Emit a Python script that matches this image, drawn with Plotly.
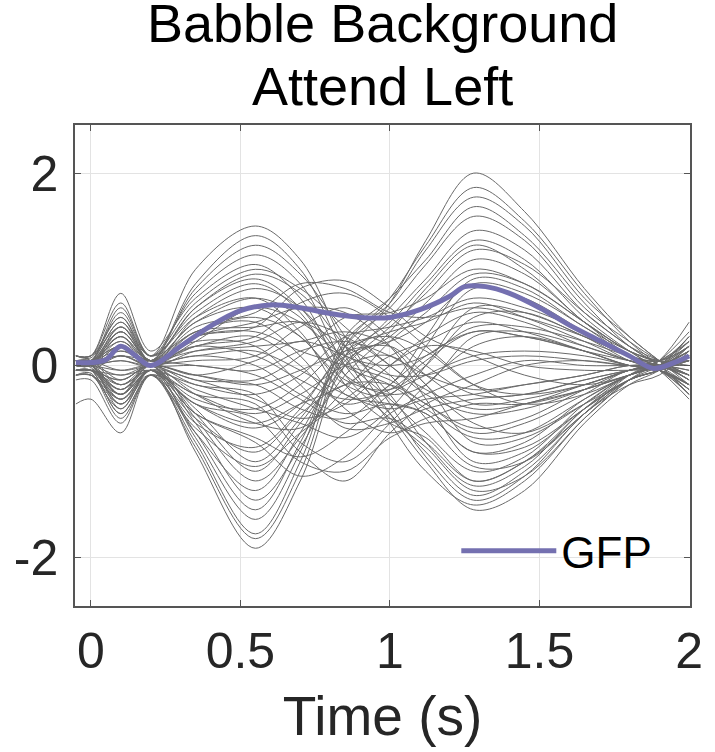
import plotly.graph_objects as go

times = [-0.05, 0, 0.1, 0.2, 0.35, 0.55, 0.7, 0.85, 1.0, 1.12, 1.28, 1.45, 1.65, 1.8, 1.9, 2.0]

# channels: early negative / late positive
ch01 = [0.05, 0.02, -0.45, -0.05, -0.9, -1.9, -1.2, 0.1, 0.65, 1.3, 2.0, 1.6, 0.8, 0.3, 0.05, -0.2]
ch02 = [0.0, 0.0, -0.35, -0.1, -0.85, -1.8, -1.1, 0.2, 0.7, 1.25, 1.85, 1.5, 0.75, 0.25, 0.0, -0.25]
ch03 = [-0.05, -0.05, -0.5, -0.1, -0.8, -1.75, -1.0, 0.25, 0.65, 1.2, 1.75, 1.45, 0.7, 0.3, 0.05, -0.15]
ch04 = [0.1, 0.05, -0.3, 0.0, -0.75, -1.6, -0.9, 0.3, 0.7, 1.1, 1.65, 1.35, 0.65, 0.2, 0.0, -0.3]
ch05 = [0.0, -0.02, -0.4, -0.05, -0.7, -1.5, -0.8, 0.2, 0.6, 1.05, 1.55, 1.3, 0.6, 0.25, 0.05, -0.1]
ch06 = [0.05, 0.0, -0.25, 0.0, -0.6, -1.4, -0.85, 0.0, 0.5, 0.9, 1.4, 1.2, 0.55, 0.2, 0.0, -0.2]
ch07 = [-0.1, -0.08, -0.55, -0.1, -0.7, -1.3, -0.7, 0.1, 0.45, 0.85, 1.3, 1.1, 0.5, 0.15, -0.05, -0.35]
ch08 = [0.0, 0.0, -0.3, 0.05, -0.55, -1.2, -0.75, -0.1, 0.35, 0.8, 1.25, 1.0, 0.45, 0.15, 0.0, 0.1]
ch09 = [0.05, 0.05, -0.2, 0.0, -0.5, -1.1, -0.6, 0.0, 0.4, 0.75, 1.2, 1.05, 0.55, 0.2, 0.05, -0.1]
ch10 = [-0.05, -0.05, -0.35, -0.05, -0.45, -1.0, -0.55, 0.05, 0.3, 0.65, 1.1, 0.95, 0.45, 0.1, -0.05, -0.2]
# channels: early positive / late negative
ch11 = [0.05, 0.05, 0.45, 0.1, 1.0, 1.45, 1.1, 0.2, -0.5, -1.0, -1.5, -1.3, -0.6, -0.2, -0.05, 0.2]
ch12 = [0.1, 0.08, 0.5, 0.05, 0.85, 1.35, 1.0, 0.1, -0.6, -1.1, -1.45, -1.2, -0.55, -0.15, 0.0, 0.3]
ch13 = [0.0, 0.0, 0.35, 0.05, 0.8, 1.25, 0.95, 0.3, -0.4, -0.95, -1.4, -1.15, -0.5, -0.2, -0.1, 0.15]
ch14 = [0.05, 0.05, 0.6, 0.1, 0.75, 1.15, 0.85, 0.0, -0.5, -0.9, -1.35, -1.1, -0.5, -0.1, 0.05, 0.35]
ch15 = [0.1, 0.1, 0.75, 0.15, 0.7, 1.05, 0.7, -0.1, -0.55, -0.85, -1.3, -1.15, -0.55, -0.15, 0.05, 0.45]
ch16 = [0.0, 0.02, 0.4, 0.05, 0.6, 0.95, 0.75, 0.2, -0.3, -0.8, -1.25, -1.05, -0.45, -0.15, -0.05, 0.1]
ch17 = [0.05, 0.05, 0.55, 0.1, 0.55, 0.85, 0.55, -0.2, -0.6, -0.75, -1.2, -1.0, -0.45, -0.1, 0.0, 0.25]
ch18 = [0.0, 0.0, 0.3, 0.0, 0.5, 0.8, 0.6, 0.05, -0.35, -0.7, -1.1, -0.95, -0.4, -0.1, 0.0, 0.2]
# channels: mid-latency deflection
ch19 = [0.0, 0.0, 0.2, 0.0, 0.3, 0.4, 0.8, 0.88, 0.6, 0.3, 0.1, -0.1, -0.2, -0.1, 0.0, 0.15]
ch20 = [0.05, 0.05, 0.3, 0.05, 0.4, 0.55, 0.85, 0.8, 0.55, 0.5, 0.6, 0.5, 0.3, 0.1, 0.05, 0.2]
ch21 = [-0.05, -0.05, 0.1, 0.0, 0.2, 0.3, 0.65, 0.75, 0.5, 0.2, -0.2, -0.4, -0.3, -0.1, 0.0, -0.1]
ch22 = [0.0, 0.0, -0.2, -0.05, -0.3, -0.4, -0.9, -1.2, -0.7, -0.4, -0.2, 0.0, 0.05, 0.0, 0.0, -0.15]
ch23 = [0.05, 0.0, -0.3, -0.05, -0.4, -0.55, -1.0, -1.1, -0.75, -0.6, -0.55, -0.4, -0.25, -0.1, 0.0, 0.0]
ch24 = [-0.05, -0.05, -0.15, 0.0, -0.2, -0.3, -0.8, -1.0, -0.6, -0.2, 0.2, 0.3, 0.15, 0.0, -0.05, -0.2]
ch25 = [0.0, 0.0, -0.25, -0.05, -0.5, -0.8, -1.15, -0.95, -0.5, -0.3, -0.1, 0.05, 0.0, 0.0, 0.0, 0.05]
# channels: mixed, smaller
ch26 = [0.1, 0.1, 0.4, 0.1, 0.35, 0.5, 0.3, -0.2, -0.3, 0.2, 0.8, 0.7, 0.35, 0.1, 0.05, 0.3]
ch27 = [0.05, 0.05, 0.25, 0.05, 0.2, 0.3, 0.0, -0.4, -0.2, 0.3, 0.9, 0.8, 0.4, 0.15, 0.05, 0.2]
ch28 = [-0.05, -0.05, -0.1, -0.05, -0.2, -0.3, -0.1, 0.3, 0.4, 0.5, 0.7, 0.6, 0.35, 0.1, 0.0, -0.1]
ch29 = [0.0, 0.0, 0.15, 0.05, 0.15, 0.2, 0.25, 0.35, 0.2, -0.2, -0.6, -0.7, -0.4, -0.15, -0.05, 0.05]
ch30 = [-0.1, -0.1, -0.4, -0.1, -0.3, -0.5, -0.3, 0.0, 0.1, -0.2, -0.8, -0.75, -0.4, -0.1, -0.05, -0.2]
ch31 = [0.0, 0.0, 0.05, 0.0, 0.1, 0.0, -0.3, -0.5, -0.4, -0.5, -0.9, -0.85, -0.45, -0.15, -0.05, 0.1]
ch32 = [0.05, 0.05, 0.2, 0.05, 0.45, 0.7, 0.5, -0.1, -0.3, -0.2, 0.3, 0.35, 0.2, 0.05, 0.0, 0.15]
ch33 = [-0.05, -0.05, -0.2, -0.05, -0.4, -0.65, -0.4, 0.1, 0.2, -0.1, -0.4, -0.35, -0.2, -0.05, 0.0, -0.05]
ch34 = [0.0, 0.0, 0.1, 0.0, 0.25, 0.6, 0.45, 0.1, 0.0, 0.1, 0.4, 0.4, 0.25, 0.1, 0.05, 0.25]
ch35 = [-0.4, -0.35, -0.7, -0.1, -0.4, -0.6, -0.4, -0.2, 0.1, 0.25, 0.45, 0.35, 0.15, 0.0, -0.05, -0.3]
ch36 = [-0.15, -0.15, -0.6, -0.1, -0.55, -0.9, -0.5, -0.2, -0.2, -0.4, -0.7, -0.6, -0.3, -0.05, -0.05, -0.25]
ch37 = [0.1, 0.1, 0.65, 0.1, 0.5, 0.7, 0.35, -0.3, -0.4, -0.5, -0.9, -0.8, -0.35, -0.1, 0.0, 0.3]
ch38 = [0.0, 0.0, -0.1, 0.0, -0.1, -0.15, 0.1, 0.5, 0.55, 0.7, 1.0, 0.85, 0.45, 0.15, 0.05, 0.0]
ch39 = [0.05, 0.05, 0.1, 0.05, 0.0, -0.1, -0.35, -0.6, -0.55, -0.8, -1.2, -1.0, -0.5, -0.15, -0.05, 0.05]
ch40 = [-0.05, -0.05, -0.25, 0.0, -0.1, 0.05, 0.25, 0.1, -0.1, -0.1, 0.05, 0.1, 0.05, 0.0, 0.0, -0.1]
ch41 = [0.05, 0.05, 0.35, 0.05, 0.1, 0.15, -0.05, -0.3, -0.45, -0.35, -0.3, -0.2, -0.1, 0.0, 0.0, 0.1]
ch42 = [-0.1, -0.1, -0.45, -0.05, -0.25, -0.45, -0.6, -0.75, -0.45, 0.0, 0.6, 0.55, 0.3, 0.05, -0.05, -0.25]
ch43 = [0.0, 0.0, 0.2, 0.0, 0.3, 0.45, 0.6, 0.55, 0.2, -0.35, -1.0, -0.9, -0.45, -0.15, -0.05, 0.1]
ch44 = [0.05, 0.05, -0.05, 0.0, 0.05, 0.1, 0.4, 0.6, 0.3, 0.0, -0.3, -0.3, -0.15, -0.05, 0.0, 0.05]
ch45 = [0.0, 0.0, 0.3, 0.05, 0.45, 0.6, 0.3, -0.15, -0.25, 0.0, 0.5, 0.55, 0.3, 0.1, 0.0, 0.2]
ch46 = [-0.05, -0.05, -0.3, -0.05, -0.35, -0.45, -0.2, 0.2, 0.3, 0.15, -0.2, -0.3, -0.2, -0.05, 0.0, -0.15]
ch47 = [0.05, 0.05, 0.45, 0.05, 0.3, 0.35, 0.15, 0.0, -0.15, -0.4, -0.65, -0.55, -0.25, -0.05, 0.0, 0.15]
ch48 = [0.0, 0.0, -0.4, -0.05, -0.6, -0.85, -0.45, 0.15, 0.35, 0.45, 0.65, 0.5, 0.25, 0.05, 0.0, -0.15]
ch49 = [0.05, 0.05, 0.15, 0.05, 0.6, 0.9, 0.6, 0.0, -0.2, -0.45, -0.75, -0.7, -0.35, -0.1, 0.0, 0.2]
ch50 = [-0.05, -0.05, -0.5, -0.1, -0.65, -1.05, -0.7, -0.35, 0.0, 0.3, 0.55, 0.45, 0.2, 0.05, -0.05, -0.3]
ch51 = [0.0, 0.0, 0.25, 0.0, 0.15, 0.25, 0.45, 0.3, 0.0, -0.3, -0.5, -0.45, -0.25, -0.1, 0.0, 0.1]
ch52 = [0.0, 0.0, -0.05, 0.0, -0.15, -0.2, -0.45, -0.55, -0.2, 0.1, 0.35, 0.3, 0.15, 0.0, 0.0, -0.05]
ch53 = [0.1, 0.1, 0.5, 0.1, 0.65, 1.0, 0.8, 0.4, 0.0, -0.25, -0.45, -0.4, -0.2, -0.05, 0.05, 0.25]
ch54 = [-0.1, -0.1, -0.35, -0.05, -0.5, -0.75, -0.95, -0.7, -0.3, -0.1, 0.1, 0.15, 0.1, 0.0, -0.05, -0.2]
ch55 = [0.0, 0.0, 0.1, 0.0, 0.0, -0.05, 0.15, 0.25, 0.1, -0.1, -0.25, -0.2, -0.1, 0.0, 0.0, 0.0]
ch56 = [0.05, 0.05, 0.2, 0.05, 0.25, 0.2, -0.2, -0.65, -0.6, -0.45, -0.35, -0.3, -0.15, -0.05, 0.0, 0.1]
ch57 = [-0.05, -0.05, -0.15, 0.0, -0.1, -0.2, -0.05, 0.15, 0.25, 0.45, 0.85, 0.75, 0.4, 0.1, 0.0, -0.1]
ch58 = [0.0, 0.0, 0.35, 0.05, 0.35, 0.4, 0.45, 0.2, -0.1, -0.55, -1.05, -1.0, -0.5, -0.15, -0.05, 0.1]
ch59 = [-0.1, -0.1, -0.3, -0.05, -0.15, -0.35, -0.55, -0.4, 0.0, 0.2, 0.15, 0.0, -0.05, -0.05, -0.05, -0.2]
ch60 = [0.0, 0.0, 0.05, 0.0, 0.35, 0.45, 0.1, -0.45, -0.7, -0.55, -0.4, -0.4, -0.25, -0.1, 0.0, 0.05]
ch61 = [0.05, 0.05, -0.15, 0.0, -0.3, -0.6, -0.65, -0.25, 0.25, 0.55, 0.95, 0.85, 0.45, 0.15, 0.05, 0.05]
ch62 = [0.0, 0.0, 0.4, 0.05, 0.2, 0.1, -0.15, -0.35, -0.25, 0.05, 0.35, 0.3, 0.15, 0.05, 0.0, 0.15]

channels = [ch01, ch02, ch03, ch04, ch05, ch06, ch07, ch08, ch09, ch10, ch11,
            ch12, ch13, ch14, ch15, ch16, ch17, ch18, ch19, ch20, ch21, ch22,
            ch23, ch24, ch25, ch26, ch27, ch28, ch29, ch30, ch31, ch32, ch33,
            ch34, ch35, ch36, ch37, ch38, ch39, ch40, ch41, ch42, ch43, ch44,
            ch45, ch46, ch47, ch48, ch49, ch50, ch51, ch52, ch53, ch54, ch55,
            ch56, ch57, ch58, ch59, ch60, ch61, ch62]

# global field power
gfp_times = [-0.05, 0, 0.05, 0.1, 0.15, 0.2, 0.3, 0.4, 0.5, 0.6, 0.7, 0.8, 0.9,
             1.0, 1.1, 1.2, 1.25, 1.32, 1.4, 1.5, 1.6, 1.7, 1.8, 1.88, 1.95, 2.0]
gfp_vals = [0.03, 0.03, 0.06, 0.2, 0.1, 0.0, 0.2, 0.41, 0.57, 0.63, 0.6, 0.54, 0.5,
            0.5, 0.58, 0.72, 0.82, 0.82, 0.75, 0.6, 0.42, 0.26, 0.1, -0.03, 0.03, 0.1]

x_ticks = [0, 0.5, 1, 1.5, 2]
x_tick_text = ["0", "0.5", "1", "1.5", "2"]
y_ticks = [-2, 0, 2]
y_tick_text = ["-2", "0", "2"]

FONT = "Liberation Sans, Arial, Helvetica, sans-serif"

fig = go.Figure()
for ch in channels:
    fig.add_trace(go.Scatter(x=times, y=ch, mode="lines", showlegend=False,
                             line=dict(color="#6a6a6a", width=1, shape="spline", smoothing=1.0),
                             hoverinfo="skip"))
fig.add_trace(go.Scatter(x=gfp_times, y=gfp_vals, mode="lines", name="GFP",
                         line=dict(color="#7470b0", width=5, shape="spline", smoothing=1.0)))

axis_common = dict(showline=True, linecolor="#555555", linewidth=1.5, mirror="ticks",
                   ticks="inside", ticklen=6, tickcolor="#555555", tickwidth=1,
                   showgrid=True, gridcolor="#e3e3e3", gridwidth=1, zeroline=False,
                   tickfont=dict(family=FONT, size=50, color="#262626"))

fig.update_layout(
    width=715, height=752,
    margin=dict(l=75, r=23, t=125, b=146),
    plot_bgcolor="white", paper_bgcolor="white",
    xaxis=dict(range=[-0.053, 2.003], tickvals=x_ticks, ticktext=x_tick_text,
               title=dict(text="Time (s)", font=dict(family=FONT, size=55, color="#262626"), standoff=19),
               **axis_common),
    yaxis=dict(range=[-2.5, 2.5], tickvals=y_ticks, ticktext=y_tick_text,
               ticklabelstandoff=5, **axis_common),
    legend=dict(x=0.62, y=0.04, xanchor="left", yanchor="bottom", bgcolor="rgba(0,0,0,0)",
                font=dict(family=FONT, size=44, color="#000000"), itemwidth=95),
    annotations=[
        dict(text="Babble Background", xref="paper", yref="paper", x=0.5, y=1.146,
             xanchor="center", yanchor="bottom", showarrow=False,
             font=dict(family=FONT, size=54, color="#000000")),
        dict(text="Attend Left", xref="paper", yref="paper", x=0.5, y=1.0146,
             xanchor="center", yanchor="bottom", showarrow=False,
             font=dict(family=FONT, size=54, color="#000000")),
    ],
)

fig.write_html("out.html", config={"displayModeBar": False},
               post_script="document.body.style.margin='0';")
